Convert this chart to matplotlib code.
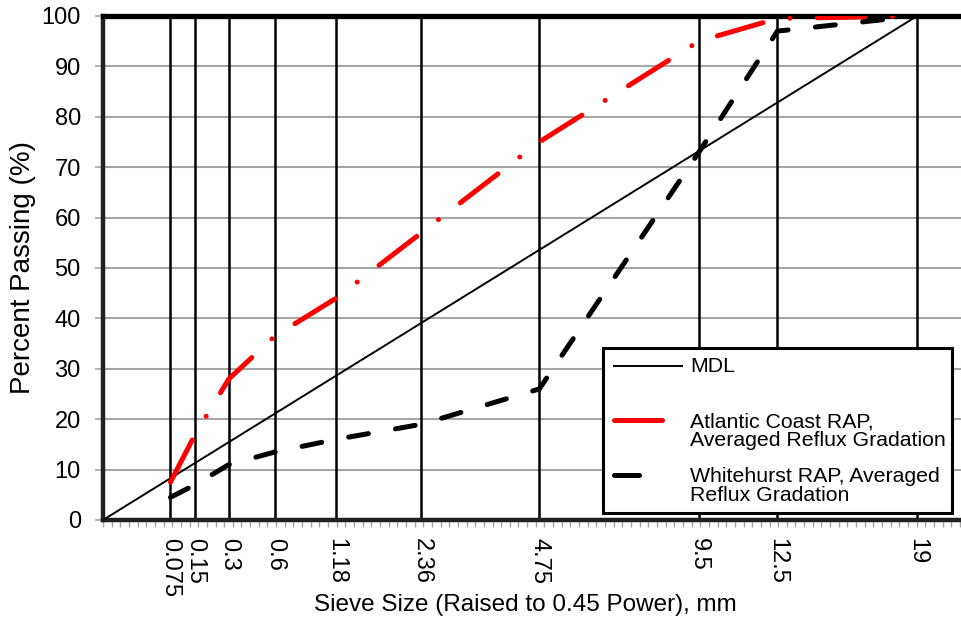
import matplotlib
matplotlib.use("Agg")
import matplotlib.pyplot as plt
from matplotlib.patches import Rectangle
from matplotlib.lines import Line2D
import numpy as np

plt.rcParams['font.family'] = ['Liberation Sans', 'DejaVu Sans']

# sieve sizes (mm) and gradations (% passing)
sieves = [0.075, 0.15, 0.3, 0.6, 1.18, 2.36, 4.75, 9.5, 12.5, 19]
sieve_labels = ["0.075", "0.15", "0.3", "0.6", "1.18", "2.36", "4.75", "9.5", "12.5", "19"]
atlantic = [7.5, 17, 28, 36.5, 44, 57, 75, 95, 99.5, 100]
whitehurst = [4.5, 7, 11, 13.5, 16, 19, 26, 73, 97, 100]
mdl_sizes = [0, 19]
mdl_pass = [0, 100]

power = 0.45
xs = np.array(sieves) ** power

fig = plt.figure(figsize=(9.61, 6.30), dpi=100)
ax = fig.add_axes([103 / 961, 1 - 520 / 630, 858 / 961, 504 / 630])

# grid: horizontal gray, vertical black at each sieve
for yv in range(10, 100, 10):
    ax.axhline(yv, color='#a6a6a6', lw=1.5, zorder=1)
for xv in xs:
    ax.plot([xv, xv], [0, 100], color='black', lw=1.8, zorder=2)

ax.plot(np.array(mdl_sizes) ** power, mdl_pass, color='black', lw=1.4, zorder=3)
ax.plot(xs, atlantic, color='#ff0000', lw=3.6, dashes=(9.5, 5.5, 0.01, 5.5),
        dash_capstyle='round', zorder=4)
ax.plot(xs, whitehurst, color='black', lw=3.6, dashes=(4.0, 5.5),
        dash_capstyle='round', zorder=5)

ax.set_xlim(0, 858 / 216.4)
ax.set_ylim(0, 100)
ax.set_yticks(range(0, 101, 10))
ax.set_xticks(xs)
ax.set_xticklabels(sieve_labels, rotation=270, fontsize=17, va='top', ha='center')
ax.set_xticks(np.arange(0, 3.97, 0.04), minor=True)
ax.tick_params(axis='x', which='major', length=0, pad=13)
ax.tick_params(axis='x', which='minor', length=5, color='#a6a6a6', width=1)
ax.tick_params(axis='y', which='major', length=6, color='#a6a6a6', width=1.2,
               labelsize=17, pad=10)

for side in ['left', 'bottom']:
    ax.spines[side].set_linewidth(3.2)
    ax.spines[side].set_color('#202020')
ax.spines['top'].set_linewidth(3.8)
ax.spines['right'].set_visible(False)

ax.set_ylabel("Percent Passing (%)", fontsize=20)
ax.yaxis.set_label_coords(-(103 - 36) / 858, 0.5)
ax.set_xlabel("Sieve Size (Raised to 0.45 Power), mm", fontsize=17.5)
ax.xaxis.set_label_coords((525 - 103) / 858, -(594 - 520) / 504)

# legend box drawn by hand to match the original layout
def fx(px):
    return (px - 103) / 858

def fy(py):
    return (520 - py) / 504

ax.add_patch(Rectangle((fx(603), fy(513)), fx(952) - fx(603), fy(348) - fy(513),
                       transform=ax.transAxes, facecolor='white', edgecolor='black',
                       lw=2.2, zorder=10))
ax.add_line(Line2D([fx(614), fx(682)], [fy(366), fy(366)], transform=ax.transAxes,
                   color='black', lw=1.4, zorder=11))
ax.add_line(Line2D([fx(614), fx(662)], [fy(420), fy(420)], transform=ax.transAxes,
                   color='#ff0000', lw=3.6, solid_capstyle='round', zorder=11))
ax.add_line(Line2D([fx(614), fx(684)], [fy(475), fy(475)], transform=ax.transAxes,
                   color='black', lw=3.6, dashes=(5.0, 9.5), dash_capstyle='round',
                   zorder=11))
leg_kw = dict(transform=ax.transAxes, fontsize=15.3, va='center', ha='left', zorder=12,
              linespacing=1.0)
ax.text(fx(690), fy(366), "MDL", **leg_kw)
ax.text(fx(690), fy(431), "Atlantic Coast RAP,\nAveraged Reflux Gradation", **leg_kw)
ax.text(fx(690), fy(486), "Whitehurst RAP, Averaged\nReflux Gradation", **leg_kw)

fig.savefig("out.png", dpi=100)
